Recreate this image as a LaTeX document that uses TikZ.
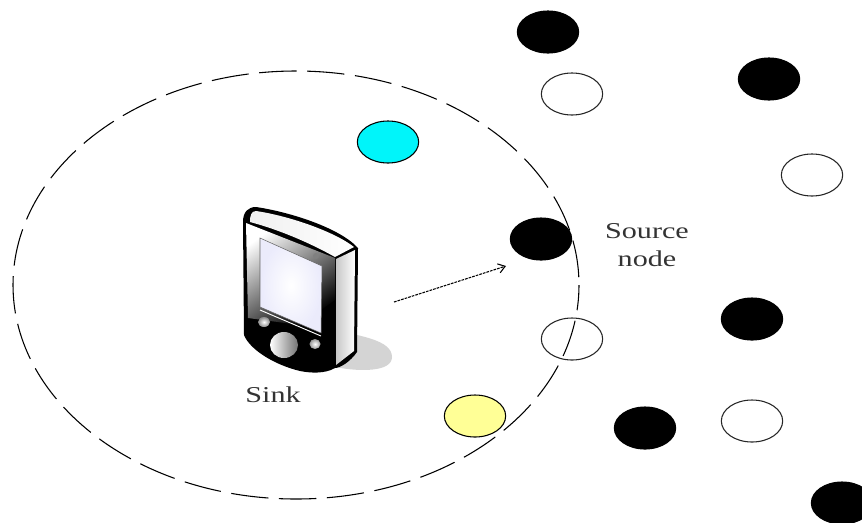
\documentclass[tikz,border=0pt]{standalone}
\usepackage{fontspec}
\setmainfont{Liberation Serif}
\usetikzlibrary{arrows.meta,calc,shapes.geometric}
\definecolor{cyanfill}{RGB}{0,245,250}
\definecolor{yellowfill}{RGB}{255,255,150}
\tikzset{
  x=0.75pt,y=-0.75pt,
  sensor/.style={ellipse,draw=black,line width=0.8pt,minimum width=46pt,minimum height=31.5pt,inner sep=0pt},
  blacknode/.style={sensor,fill=black},
  whitenode/.style={sensor,fill=white,draw=black!85},
  lab/.style={font=\fontsize{17}{19.5}\selectfont,text=black!80,align=center,inner sep=0pt,xscale=1.33,transform shape},
}
\begin{document}
\begin{tikzpicture}
\useasboundingbox (0,0) rectangle (862,522);
% shadow
\fill[black!17] (335,330) .. controls (360,336) and (392,340) .. (392,357) .. controls (392,372) and (360,372) .. (335,367) -- cycle;
% range
\node[blacknode] (src) at (541,239) {};
\node[whitenode] (w2) at (572,339) {};
\draw[line width=0.8pt,dash pattern=on 28pt off 8pt,dash phase=9pt] (296,285) ellipse [x radius=283,y radius=214];
% nodes
\node[blacknode] (b1) at (548,32) {};
\node[whitenode] (w1) at (572,94) {};
\node[blacknode] (b2) at (769,79) {};
\node[whitenode] (w3) at (812,175) {};
\node[sensor,fill=cyanfill] (cy) at (388,142) {};
\node[blacknode] (b3) at (752,319) {};
\node[blacknode] (b4) at (645,428) {};
\node[whitenode] (w4) at (752,421) {};
\node[blacknode] (b5) at (842,503) {};
\node[sensor,fill=yellowfill] (ye) at (475,416) {};
% phone body
\fill[black] (243,222) .. controls (243,212) and (248,207) .. (256,207)
  .. controls (290,212) and (340,228) .. (358,248)
  -- (357,352) .. controls (350,362) and (340,368) .. (335,368)
  .. controls (325,374) and (310,373) .. (300,371)
  .. controls (275,365) and (250,350) .. (244,335) -- cycle;
% front face gradient
\shade[top color=white,middle color=black!60,bottom color=black,shading angle=35]
  (246,223) -- (335,258) -- (335,300) -- (300,325) -- (248,318) -- cycle;
% top surface
\shade[left color=black!6,right color=white] (256,211) .. controls (290,216) and (335,232) .. (354,247) -- (335,257)
  .. controls (310,243) and (280,230) .. (250,222) .. controls (250,216) and (251,211) .. (256,211) -- cycle;
% side panel
\shade[left color=black!22,right color=white] (336,259) -- (355,250) -- (354,351) -- (336,365) -- cycle;
% screen
\shade[inner color=white,outer color=black!18!blue!8!white,draw=black!60] (260,238) -- (322,266) -- (321,333) -- (260,307) -- cycle;
\draw[white,line width=0.7pt] (260,310) -- (321,336);
% buttons
\shade[inner color=white,outer color=black!45] (264,322) ellipse [x radius=6,y radius=5];
\shade[left color=white,right color=black!55] (284,345) ellipse [x radius=14,y radius=13];
\shade[inner color=white,outer color=black!40] (315,344) ellipse [x radius=5.5,y radius=5];
\fill[black!50] (316,256) circle [radius=3];
% arrow
\coordinate (ar) at (394,302);
\draw[line width=0.8pt,dash pattern=on 2pt off 0.8pt,-{Straight Barb[length=5pt,width=7pt]}] (ar) -- ($(src)+(-35,27)$);
% labels
\node[lab] (srcl) at (647,245) {Source\\[2pt]node};
\node[lab] (sk) at (273,395) {Sink};
\end{tikzpicture}
\end{document}
